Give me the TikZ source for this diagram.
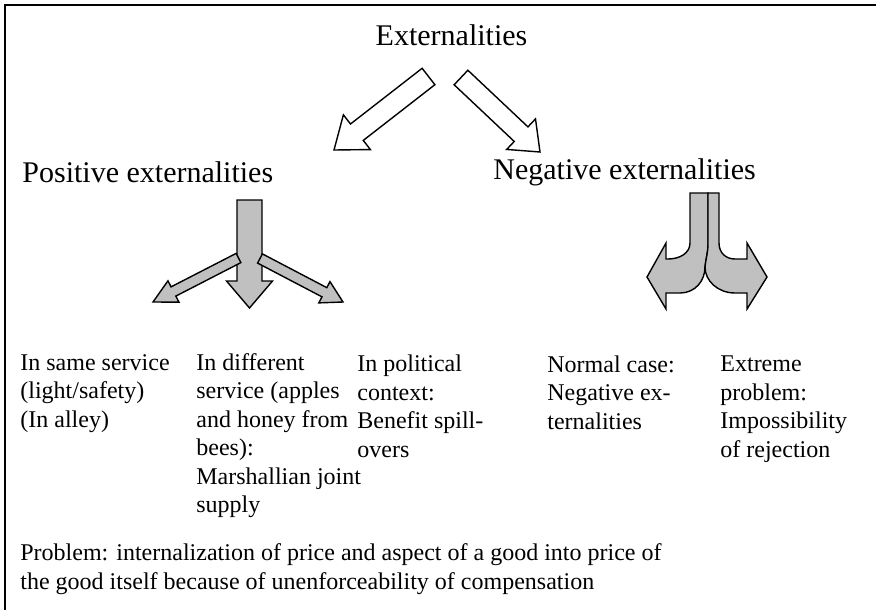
\documentclass[tikz,border=0pt]{standalone}
\usepackage{fontspec}
\setmainfont{Liberation Serif}
\usetikzlibrary{calc}
\definecolor{ArrowGrey}{RGB}{192,192,192}

% block arrow: [style]{start}{tip}{shaft half width}{head half width}{head length}
\newcommand{\blockarrow}[6][]{%
  \coordinate (ba-h) at ($(#3)!#6!(#2)$);
  \draw[#1] ($(#2)!#4!90:(#3)$) -- ($(ba-h)!#4!-90:(#2)$) -- ($(ba-h)!#5!-90:(#2)$)
    -- (#3) -- ($(ba-h)!#5!90:(#2)$) -- ($(ba-h)!#4!90:(#2)$) -- ($(#2)!#4!-90:(#3)$) -- cycle;}

\begin{document}
\begin{tikzpicture}[x=0.5pt, y=-0.5pt,
    heading/.style={font=\fontsize{15}{17}\selectfont, inner sep=0pt},
    body/.style={font=\fontsize{12}{14.25}\selectfont, align=left, inner sep=0pt, anchor=base west},
    hollow/.style={draw=black, fill=white, line width=0.7pt},
    solid/.style={draw=black, fill=ArrowGrey, line width=0.7pt}]
  \useasboundingbox (0,0) rectangle (876,610);
  % frame, only top and left edges show
  \draw[line width=1pt] (5,610) -- (5,5) -- (876,5);

  % Headings
  \node[heading] (ext) at (451.5,35) {Externalities};
  \node[heading, anchor=west] (pos) at (22,172) {Positive externalities};
  \node[heading, anchor=west] (neg) at (493,172) {Negative externalities};

  % Open arrows from the title
  \coordinate (ext-l) at (428.5,76.5);
  \coordinate (ext-r) at (461,77.5);
  \coordinate (pos-in) at (334,150);
  \coordinate (neg-in) at (540,152);
  \blockarrow[hollow]{ext-l}{pos-in}{5.2pt}{11pt}{14.5pt}
  \blockarrow[hollow]{ext-r}{neg-in}{5pt}{10.5pt}{13pt}

  % Grey arrows under positive externalities
  \coordinate (pos-out) at (249.5,200);
  \coordinate (diff-in) at (249.5,308);
  \coordinate (fork-l) at (238.5,258);
  \coordinate (same-in) at (153,302);
  \coordinate (fork-r) at (260,258.5);
  \coordinate (pol-in) at (343,302);
  \blockarrow[solid]{pos-out}{diff-in}{6.25pt}{11.5pt}{13.5pt}
  \blockarrow[solid]{fork-l}{same-in}{2.6pt}{6pt}{11.5pt}
  \blockarrow[solid]{fork-r}{pol-in}{2.6pt}{6pt}{10.5pt}

  % Split arrow under negative externalities
  \draw[solid] (690,193) -- (690,243) .. controls (690,253) and (680,259) .. (668,259)
    -- (666,259) -- (666,243) -- (647,277) -- (666,309) -- (666,293) -- (680,293)
    .. controls (695,293) and (705,281) .. (705,267)
    .. controls (706,258) and (708,252) .. (708,245) -- (708,193) -- cycle;
  \draw[solid] (708,193) -- (719,193) -- (719,243) .. controls (719,253) and (726,259) .. (735,259)
    -- (747,259) -- (747,243) -- (767,277) -- (747,309) -- (747,293) -- (735,293)
    .. controls (718,293) and (705,281) .. (705,267)
    .. controls (706,258) and (708,252) .. (708,245) -- cycle;

  % Cases (anchored at the baseline of their last line)
  \node[body] (same) at (20,427) {In same service\\(light/safety)\\(In alley)};
  \node[body] (diff) at (196,512.5) {In different\\service (apples\\and honey from\\bees):\\Marshallian joint\\supply};
  \node[body] (pol) at (357,457) {In political\\context:\\Benefit spill-\\overs};
  \node[body] (normal) at (547,429) {Normal case:\\Negative ex-\\ternalities};
  \node[body] (extreme) at (720,457) {Extreme\\problem:\\Impossibility\\of rejection};

  % Bottom remark
  \node[body] (problem) at (20,589) {Problem: internalization of price and aspect of a good into price of\\the good itself because of unenforceability of compensation};
\end{tikzpicture}
\end{document}
